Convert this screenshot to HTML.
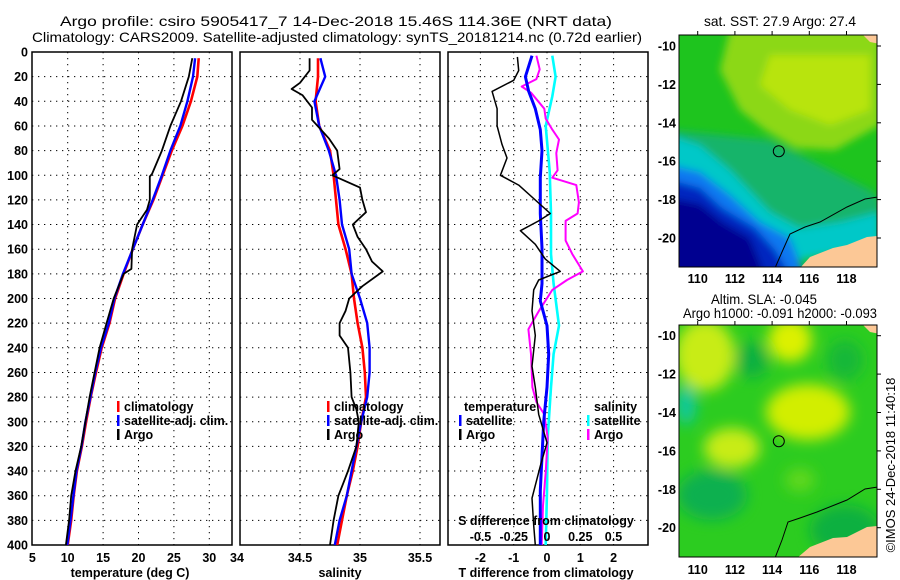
<!DOCTYPE html>
<html><head><meta charset="utf-8">
<style>
html,body{margin:0;padding:0;background:#fff;}
svg{display:block;font-family:"Liberation Sans",sans-serif;}
.tk{font-size:12.5px;font-weight:bold;fill:#000;}
.tt{font-size:14px;fill:#000;}
</style></head>
<body>
<svg id="fig" width="900" height="580" viewBox="0 0 900 580" xmlns="http://www.w3.org/2000/svg">
<defs>
<clipPath id="cp1"><rect x="32" y="52" width="200" height="493"/></clipPath>
<clipPath id="cp2"><rect x="240" y="52" width="200" height="493"/></clipPath>
<clipPath id="cp3"><rect x="448" y="52" width="200" height="493"/></clipPath>
<clipPath id="cm1"><rect x="679" y="35" width="198" height="232"/></clipPath>
<clipPath id="cm2"><rect x="679" y="325" width="198" height="232"/></clipPath>
<filter id="bl" x="-20%" y="-20%" width="140%" height="140%"><feGaussianBlur stdDeviation="4"/></filter>
<filter id="bl2" x="-20%" y="-20%" width="140%" height="140%"><feGaussianBlur stdDeviation="7"/></filter>
</defs>
<text class="tt" x="60" y="26" textLength="552" lengthAdjust="spacingAndGlyphs">Argo profile: csiro 5905417_7 14-Dec-2018 15.46S 114.36E (NRT data)</text>
<text class="tt" x="32" y="42" textLength="610" lengthAdjust="spacingAndGlyphs">Climatology: CARS2009. Satellite-adjusted climatology: synTS_20181214.nc (0.72d earlier)</text>

<g>
<text class="tt" x="780" y="26" text-anchor="middle" textLength="152" lengthAdjust="spacingAndGlyphs">sat. SST: 27.9 Argo: 27.4</text>
<g clip-path="url(#cm1)">
<rect x="679" y="35" width="198" height="232" fill="#1ec41e"/>
<g filter="url(#bl)">
<polygon points="730,30 880,30 880,125 835,150 795,148 765,130 740,110 720,70" fill="#8cd814"/>
<polygon points="770,55 870,55 870,110 830,125 790,110 760,85" fill="#b8e40a"/>
<polygon points="670,130 720,135 770,140 810,160 870,190 880,200 880,240 800,250 760,230 700,200 670,180" fill="#12b46a"/>
<polygon points="670,135 700,145 730,170 770,212 800,228 840,222 880,212 880,245 800,260 760,250 700,215 670,200" fill="#00c8c8"/>
<polygon points="670,165 700,172 730,195 760,222 790,238 805,275 670,275" fill="#0a78f0"/>
<polygon points="670,180 700,188 722,208 755,228 775,250 790,275 670,275" fill="#0028c0"/>
<polygon points="670,198 700,204 722,222 750,238 765,275 670,275" fill="#000090"/>
</g>
<polygon points="800,268 810,257 833,248 847,245 867,237 877,236 880,268" fill="#fcc896"/>
<polygon points="862,34 880,34 880,44 870,42" fill="#fcc896"/>
<polyline points="775,268 782,252 790,234 805,227 820,222 847,207 865,199 878,197" fill="none" stroke="#000" stroke-width="1"/>
<circle cx="778.8" cy="151.2" r="5.5" fill="none" stroke="#000" stroke-width="1"/>
</g>
<rect x="679" y="35" width="198" height="232" fill="none" stroke="#000" stroke-width="1"/>
</g>

<g>
<text class="tt" x="764" y="304" text-anchor="middle" textLength="106" lengthAdjust="spacingAndGlyphs">Altim. SLA: -0.045</text>
<text class="tt" x="780" y="318" text-anchor="middle" textLength="194" lengthAdjust="spacingAndGlyphs">Argo h1000: -0.091 h2000: -0.093</text>
<g clip-path="url(#cm2)">
<rect x="679" y="325" width="198" height="232" fill="#2ccc20"/>
<g filter="url(#bl2)">
<ellipse cx="705" cy="355" rx="30" ry="36" fill="#c8ec14"/>
<ellipse cx="790" cy="340" rx="22" ry="22" fill="#dcf000"/>
<ellipse cx="808" cy="412" rx="42" ry="28" fill="#d2ee00"/>
<ellipse cx="732" cy="448" rx="28" ry="20" fill="#c8ec14"/>
<ellipse cx="752" cy="360" rx="16" ry="18" fill="#10b040"/>
<ellipse cx="712" cy="495" rx="35" ry="25" fill="#10b050"/>
<ellipse cx="686" cy="405" rx="10" ry="20" fill="#10c8a0"/>
<ellipse cx="845" cy="360" rx="18" ry="20" fill="#18b838"/>
<ellipse cx="845" cy="530" rx="35" ry="25" fill="#10b040"/>
<ellipse cx="800" cy="480" rx="15" ry="12" fill="#60d81a"/>
</g>
<polygon points="797,558 810,547 833,538 847,537 867,527 877,526 880,558" fill="#fcc896"/>
<polygon points="862,324 880,324 880,334 870,332" fill="#fcc896"/>
<polyline points="775,558 782,540 788,522 800,518 817,512 847,500 865,489 878,487" fill="none" stroke="#000" stroke-width="1"/>
<circle cx="778.8" cy="441.2" r="5.5" fill="none" stroke="#000" stroke-width="1"/>
</g>
<rect x="679" y="325" width="198" height="232" fill="none" stroke="#000" stroke-width="1"/>
</g>
<text x="895" y="465" transform="rotate(-90 895 465)" text-anchor="middle" font-size="13">©IMOS 24-Dec-2018 11:40:18</text>
</svg>
<script>
const depthTicks = [0,20,40,60,80,100,120,140,160,180,200,220,240,260,280,300,320,340,360,380,400];
const tempTicks = [5,10,15,20,25,30];
const salTicks = [34,34.5,35,35.5];
const salTickLabels = ["34","34.5","35","35.5"];
const tdiffTicks = [-2,-1,0,1,2];
const sdiffTicks = [-0.5,-0.25,0,0.25,0.5];
const sdiffTickLabels = ["-0.5","-0.25","0","0.25","0.5"];
const lonTicks = [110,112,114,116,118];
const latTicks = [-10,-12,-14,-16,-18,-20];

const profDepth = [5,20,40,60,80,100,120,140,160,180,200,220,240,260,280,300,320,340,360,380,400];
const climTemp = [28.5,28.3,27.4,26.2,24.7,23.4,22.1,20.6,19.2,17.9,16.7,15.9,14.8,14.0,13.25,12.6,12.0,11.3,10.85,10.5,10.0];
const satTemp  = [28.0,27.7,26.9,25.9,24.5,23.3,22.0,20.6,19.2,17.8,16.6,15.8,14.7,13.9,13.2,12.5,11.95,11.25,10.8,10.4,9.95];
const argoTempDepth = [5,20,40,60,80,99,101,120,128,140,160,176,180,200,220,240,260,280,300,320,340,360,380,400];
const argoTemp = [27.6,27.1,26.0,24.5,23.3,21.9,21.6,21.6,21.2,19.8,19.1,19.0,17.9,16.5,15.5,14.5,13.8,13.1,12.5,11.9,11.1,10.5,10.2,9.75];

const climSal = [34.65,34.65,34.63,34.66,34.75,34.78,34.80,34.82,34.88,34.93,34.95,34.98,35.02,35.04,35.05,35.01,34.98,34.94,34.89,34.85,34.81];
const satSal  = [34.67,34.71,34.62,34.66,34.74,34.80,34.83,34.85,34.91,34.93,35.00,35.06,35.08,35.08,35.06,35.01,34.97,34.93,34.89,34.83,34.79];
const argoSalDepth = [5,15,25,30,35,45,55,70,80,95,100,110,120,130,140,150,160,170,178,190,200,210,220,230,240,260,280,290,300,320,340,350,360,380,400];
const argoSal = [34.58,34.58,34.50,34.43,34.52,34.60,34.60,34.74,34.81,34.83,34.77,35.00,35.02,35.05,34.94,34.98,35.05,35.10,35.19,35.02,34.91,34.88,34.83,34.83,34.90,34.92,34.93,34.97,34.99,34.97,34.90,34.86,34.82,34.78,34.75];

const tdArgoDepth = [4,15,23,32,46,60,75,86,100,108,131,137,145,156,168,178,185,193,210,230,255,272,294,317,336,362,384,400];
const tdArgo = [-0.89,-0.85,-1.0,-1.65,-1.5,-1.5,-1.35,-1.2,-1.4,-0.85,0.1,-0.25,-0.8,-0.35,-0.05,0.4,-0.25,-0.4,-0.45,-0.35,-0.45,-0.35,-0.25,0,-0.2,-0.45,-0.4,-0.35];
const tdSatDepth = [3,20,32,46,63,80,102,131,159,188,202,222,245,272,300,328,356,400];
const tdSat = [-0.45,-0.65,-0.55,-0.35,-0.2,-0.15,-0.2,-0.2,-0.15,-0.15,-0.2,0,0.05,0,-0.1,-0.15,-0.2,-0.2];
const sdSatDepth = [3,20,36,60,97,131,164,188,222,245,272,313,356,400];
const sdSat = [0.04,0.065,0.04,-0.01,0.02,0.03,0.03,0.05,0.09,0.05,0.03,0.005,0,-0.01];
const sdArgoDepth = [3,14,22,28,33,46,54,63,71,82,96,102,108,122,131,137,153,164,178,185,193,210,225,245,272,284,294,313,341,368,400];
const sdArgo = [-0.08,-0.055,-0.08,-0.19,-0.12,-0.02,-0.01,0.04,0.09,0.07,0.08,0.04,0.22,0.24,0.23,0.14,0.14,0.19,0.27,0.15,0.04,-0.06,-0.14,-0.12,-0.11,-0.08,-0.02,0.005,-0.01,-0.03,-0.04];

const yD = d => 52 + d*1.2325;
const xT = t => 32.3 + (t-5)*7.08;
const xS = s => 240 + (s-34)*120;
const xTd = t => 547 + t*33.3;
const xSd = s => 547 + s*133;
const m1x = lon => 697.7 + (lon-110)*18.6;
const m1y = lat => 46 + (-10-lat)*19.2;
const m2y = lat => 335.7 + (-10-lat)*19.2;

const NS = "http://www.w3.org/2000/svg";
const svg = document.getElementById('fig');
function mk(tag, attrs, parent){
  const e = document.createElementNS(NS, tag);
  for (const k in attrs) e.setAttribute(k, attrs[k]);
  (parent||svg).appendChild(e);
  return e;
}

function panel(x0, name, xticks, xfn, clip){
  const g = mk('g', {});
  
  
  depthTicks.forEach(d => {
    if (d===0||d===400) return;
    const l = mk('line', {x1:x0,x2:x0+200,y1:yD(d),y2:yD(d),stroke:'#000','stroke-width':1,'stroke-dasharray':'1.3 4.7'}, g);
    
    
  });
  xticks.forEach(v => {
    const x = xfn(v);
    if (x < x0+3 || x > x0+197) return;
    const l = mk('line', {x1:x,x2:x,y1:52,y2:545,stroke:'#000','stroke-width':1,'stroke-dasharray':'1.3 4.7'}, g);
    
    
  });
  const r = mk('rect', {x:x0,y:52,width:200,height:493,fill:'none',stroke:'#000','stroke-width':1.5}, g);
  
  
  return g;
}
function line(g, xs, ds, xfn, color, w, clip, name){
  const pts = xs.map((v,i) => xfn(v).toFixed(1)+','+yD(ds[i]).toFixed(1)).join(' ');
  const p = mk('polyline', {points:pts, fill:'none', stroke:color, 'stroke-width':w, 'clip-path':'url(#'+clip+')', 'stroke-linejoin':'round'}, g);
  
  
}
function txt(s, x, y, anchor, cls, name, parent){
  const t = mk('text', {x:x, y:y, 'text-anchor':anchor||'start', class:cls||'tk'}, parent);
  t.textContent = s;
  
  
  return t;
}
function legendEntry(g, x, y, color, label, name){
  const b = mk('rect', {x:x, y:y-10, width:2.5, height:11, fill:color}, g);
  
  
  txt(label, x+7, y, 'start', 'tk', name, g);
}

depthTicks.forEach(d => txt(String(d), 28, yD(d)+4.5, 'end', 'tk', 'y-tick-label'));

const g1 = panel(32, 'temperature-panel', tempTicks, xT, 'cp1');
tempTicks.forEach(v => txt(String(v), xT(v), 562, 'middle', 'tk', 'x-tick-label', g1));
txt('temperature (deg C)', 130, 577, 'middle', 'tk', 'x-axis-title', g1);
line(g1, climTemp, profDepth, xT, '#ff0000', 2.6, 'cp1', 'climatology-temp-line');
line(g1, satTemp, profDepth, xT, '#0000ff', 2.4, 'cp1', 'satellite-temp-line');
line(g1, argoTemp, argoTempDepth, xT, '#000', 1.8, 'cp1', 'argo-temp-line');
legendEntry(g1, 117, 411, '#ff0000', 'climatology', 'legend-climatology');
legendEntry(g1, 117, 425, '#0000ff', 'satellite-adj. clim.', 'legend-satellite-adj');
legendEntry(g1, 117, 439, '#000', 'Argo', 'legend-argo');

const g2 = panel(240, 'salinity-panel', salTicks, xS, 'cp2');
salTicks.forEach((v,i) => txt(salTickLabels[i], xS(v)-(i===0?3:0), 562, 'middle', 'tk', 'x-tick-label', g2));
txt('salinity', 340, 577, 'middle', 'tk', 'x-axis-title', g2);
line(g2, climSal, profDepth, xS, '#ff0000', 2.6, 'cp2', 'climatology-sal-line');
line(g2, satSal, profDepth, xS, '#0000ff', 2.4, 'cp2', 'satellite-sal-line');
line(g2, argoSal, argoSalDepth, xS, '#000', 1.8, 'cp2', 'argo-sal-line');
legendEntry(g2, 327, 411, '#ff0000', 'climatology', 'legend-climatology');
legendEntry(g2, 327, 425, '#0000ff', 'satellite-adj. clim.', 'legend-satellite-adj');
legendEntry(g2, 327, 439, '#000', 'Argo', 'legend-argo');

const g3 = panel(448, 'difference-panel', tdiffTicks, xTd, 'cp3');
tdiffTicks.forEach(v => txt(String(v), xTd(v), 562, 'middle', 'tk', 'x-tick-label', g3));
txt('T difference from climatology', 546, 577, 'middle', 'tk', 'x-axis-title', g3);
line(g3, sdSat, sdSatDepth, xSd, '#00ffff', 2.6, 'cp3', 'salinity-satellite-diff-line');
line(g3, sdArgo, sdArgoDepth, xSd, '#ff00ff', 2.0, 'cp3', 'salinity-argo-diff-line');
line(g3, tdSat, tdSatDepth, xTd, '#0000ff', 3.0, 'cp3', 'temperature-satellite-diff-line');
line(g3, tdArgo, tdArgoDepth, xTd, '#000', 1.5, 'cp3', 'temperature-argo-diff-line');
txt('temperature', 464, 411, 'start', 'tk', 'legend-temperature-heading', g3);
legendEntry(g3, 459, 425, '#0000ff', 'satellite', 'legend-temp-satellite');
legendEntry(g3, 459, 439, '#000', 'Argo', 'legend-temp-argo');
txt('salinity', 594, 411, 'start', 'tk', 'legend-salinity-heading', g3);
legendEntry(g3, 587, 425, '#00ffff', 'satellite', 'legend-sal-satellite');
legendEntry(g3, 587, 439, '#ff00ff', 'Argo', 'legend-sal-argo');
txt('S difference from climatology', 546, 525, 'middle', 'tk', 'secondary-axis-title', g3);
sdiffTicks.forEach((v,i) => txt(sdiffTickLabels[i], xSd(v), 541, 'middle', 'tk', 'secondary-tick-label', g3));

function mapAxes(yfn, top, bottom, labY, name){
  const g = mk('g', {});
  
  
  lonTicks.forEach(v => {
    const x = m1x(v);
    const t = mk('line', {x1:x,x2:x,y1:top-4,y2:top,stroke:'#000','stroke-width':1}, g);
    
    
    txt(String(v), x, labY, 'middle', 'tk', 'lon-tick-label', g);
  });
  latTicks.forEach(v => {
    const y = yfn(v);
    const t = mk('line', {x1:877,x2:881,y1:y,y2:y,stroke:'#000','stroke-width':1}, g);
    
    
    txt(String(v), 676, y+4.5, 'end', 'tk', 'lat-tick-label', g);
  });
}
mapAxes(m1y, 35, 267, 283, 'sst-map-axes');
mapAxes(m2y, 325, 557, 574, 'sla-map-axes');
</script>
</body></html>
